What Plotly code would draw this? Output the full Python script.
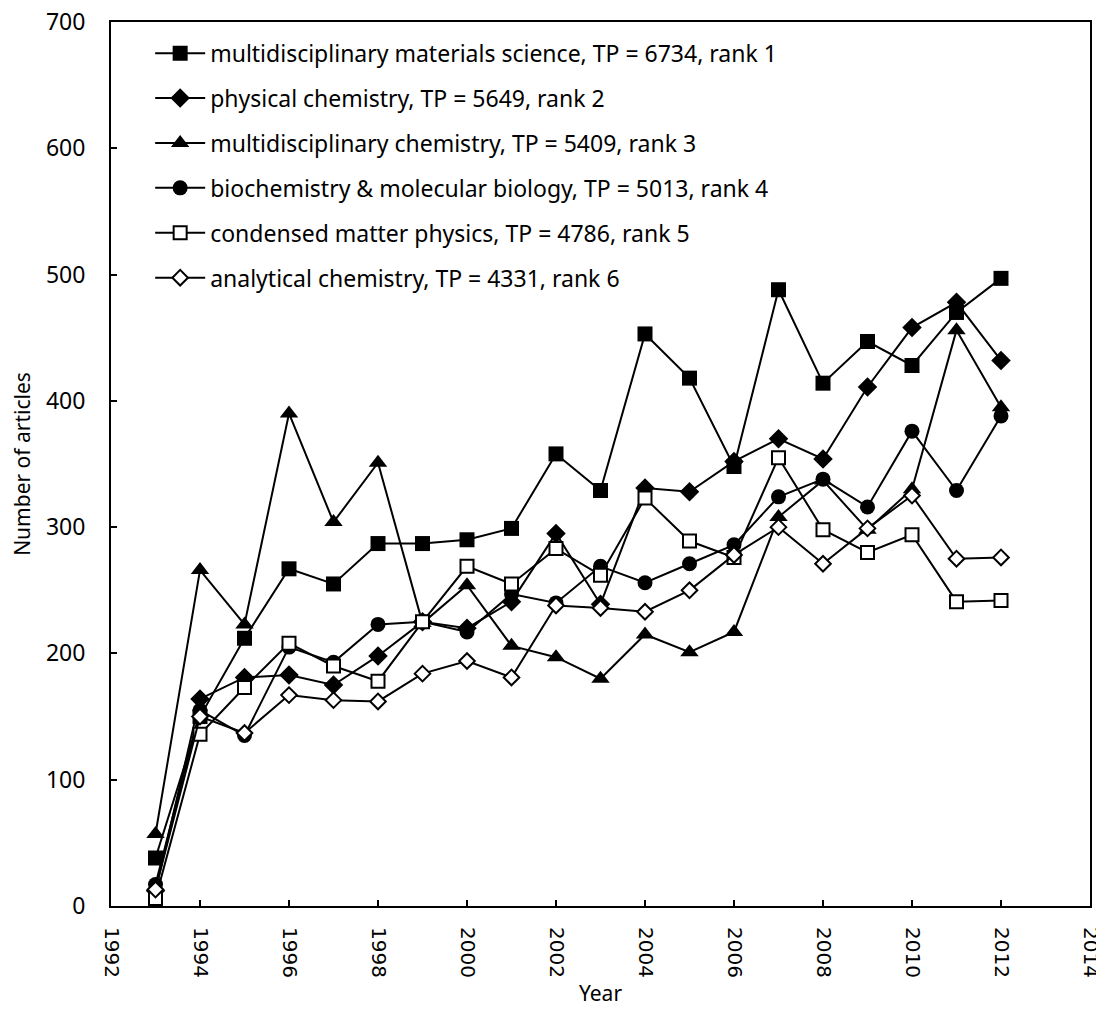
import plotly.graph_objects as go

years = list(range(1993, 2013))

materials_sci = [38, 150, 212, 267, 255, 287, 287, 290, 299, 358, 329, 453, 418, 348, 488, 414, 447, 428, 470, 497]
phys_chem = [12, 164, 181, 183, 175, 198, 225, 220, 241, 295, 239, 331, 328, 352, 370, 354, 411, 458, 478, 432]
multi_chem = [57, 266, 223, 390, 304, 351, 224, 254, 206, 197, 180, 215, 201, 217, 308, 337, 298, 330, 456, 395]
biochem = [17, 155, 135, 205, 193, 223, 225, 217, 247, 240, 269, 256, 271, 286, 324, 338, 316, 376, 329, 388]
cond_matter = [6, 136, 173, 208, 190, 178, 225, 269, 255, 283, 262, 323, 289, 276, 355, 298, 280, 294, 241, 242]
anal_chem = [13, 150, 137, 167, 163, 162, 184, 194, 181, 238, 236, 233, 250, 278, 300, 271, 299, 325, 275, 276]

# name, values, symbol, size, fill colour
series = [
    ("multidisciplinary materials science, TP = 6734, rank 1", materials_sci, "square", 15, "black"),
    ("physical chemistry, TP = 5649, rank 2", phys_chem, "diamond", 15, "black"),
    ("multidisciplinary chemistry, TP = 5409, rank 3", multi_chem, "triangle-up", 16, "black"),
    ("biochemistry & molecular biology, TP = 5013, rank 4", biochem, "circle", 15, "black"),
    ("condensed matter physics, TP = 4786, rank 5", cond_matter, "square", 13, "white"),
    ("analytical chemistry, TP = 4331, rank 6", anal_chem, "diamond", 12, "white"),
]

fig = go.Figure()
for i, (name, vals, sym, size, fill) in enumerate(series):
    fig.add_trace(go.Scatter(
        x=years,
        y=vals,
        mode='lines+markers',
        name=name,
        legendgroup=str(i),
        line=dict(color='black', width=2),
        marker=dict(symbol=sym, size=size, color=fill,
                    line=dict(color='black', width=2 if fill == 'white' else 0)),
    ))

font = "Noto Sans, sans-serif"

# page body has an 8px margin, so the figure is sized to fit the window
fig.update_layout(
    width=1096,
    height=1001,
    margin=dict(l=103, r=14, t=14, b=103),
    plot_bgcolor='white',
    paper_bgcolor='white',
    font=dict(family=font, size=20, color='black'),
    showlegend=True,
    legend=dict(
        x=0.040, y=0.989, xanchor='left', yanchor='top',
        bgcolor='rgba(0,0,0,0)',
        font=dict(family=font, size=23, color='black'),
        tracegroupgap=12,
        itemwidth=50,
    ),
    xaxis=dict(
        range=[1992, 2014],
        dtick=2,
        tick0=1992,
        tickangle=90,
        tickfont=dict(family="DejaVu Sans", size=20),
        ticks='inside',
        ticklen=6,
        tickwidth=1.5,
        tickcolor='black',
        ticklabelstandoff=15,
        ticklabeloverflow='allow',
        showgrid=False,
        zeroline=False,
        showline=True,
        linecolor='black',
        linewidth=2,
        mirror=True,
        automargin=False,
        title=dict(text='Year', font=dict(size=21), standoff=9),
    ),
    yaxis=dict(
        range=[0, 700],
        dtick=100,
        tickfont=dict(family=font, size=23),
        ticks='inside',
        ticklen=6,
        tickwidth=1.5,
        tickcolor='black',
        ticklabelstandoff=19,
        ticklabeloverflow='allow',
        showgrid=False,
        zeroline=False,
        showline=True,
        linecolor='black',
        linewidth=2,
        mirror=True,
        automargin=False,
        title=dict(text='Number of articles', font=dict(size=21), standoff=14),
    ),
)

fig.write_html("out.html")
